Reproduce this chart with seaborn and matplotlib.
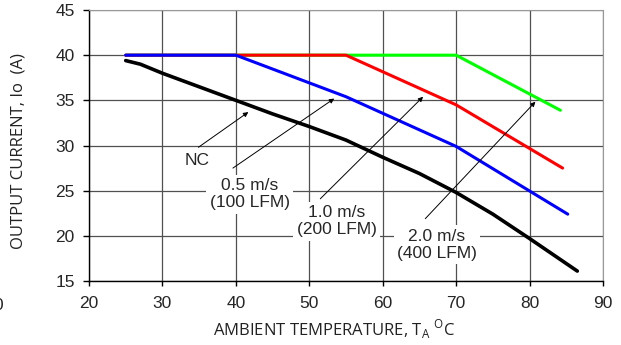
import numpy as np
import pandas as pd
import seaborn as sns
import matplotlib.pyplot as plt

# derating curves
ta_nc = [25, 27, 30, 35, 40, 45, 50, 55, 60, 65, 70, 75, 80, 86.5]
io_nc = [39.4, 39.0, 38.0, 36.5, 35.0, 33.5, 32.1, 30.6, 28.7, 26.9, 24.8, 22.4, 19.7, 16.1]
ta_05 = [25, 40, 55, 70, 85.2]
io_05 = [40, 40, 35.4, 29.9, 22.4]
ta_10 = [25, 55, 70, 84.5]
io_10 = [40, 40, 34.5, 27.5]
ta_20 = [25, 70, 84.2]
io_20 = [40, 40, 33.9]

x_ticks = [20, 30, 40, 50, 60, 70, 80, 90]
y_ticks = [15, 20, 25, 30, 35, 40, 45]

frames = []
for name, t, i in [("2.0", ta_20, io_20), ("1.0", ta_10, io_10),
                   ("0.5", ta_05, io_05), ("NC", ta_nc, io_nc)]:
    frames.append(pd.DataFrame({"ta": t, "io": i, "air": name}))
df = pd.concat(frames, ignore_index=True)

sns.set_style("white")
plt.rcParams['font.family'] = ['Liberation Sans', 'DejaVu Sans']

fig = plt.figure(figsize=(6.21, 3.45), dpi=100)
ax = fig.add_axes([0.1433, 0.1855, 0.8277, 0.7855])

palette = {"2.0": "#00ff00", "1.0": "#ff0000", "0.5": "#0000ff", "NC": "#000000"}
sns.lineplot(data=df, x="ta", y="io", hue="air", palette=palette, sort=False,
             estimator=None, linewidth=2.2, legend=False, ax=ax)
ax.lines[-1].set_linewidth(2.6)

ax.set_xlim(20, 90)
ax.set_ylim(15, 45)
ax.set_xticks(x_ticks)
ax.set_yticks(y_ticks)
ax.grid(True, color="#505050", linewidth=0.9)
ax.set_axisbelow(True)
for s in ["top", "right"]:
    ax.spines[s].set_color("#999999")
for s in ["left", "bottom"]:
    ax.spines[s].set_color("black")
    ax.spines[s].set_linewidth(1.0)
ax.tick_params(axis="both", direction="out", width=1, color="black",
               labelsize=12.5, bottom=True, left=True)
ax.tick_params(axis="x", length=3.6, pad=7)
ax.tick_params(axis="y", length=4.3, pad=6)

label_font = ["Open Sans", "DejaVu Sans"]
ax.set_xlabel(r"AMBIENT TEMPERATURE, T$_\mathregular{A}$ $^\mathregular{O}$C",
              fontsize=12, family=label_font, color="#222222")
ax.xaxis.set_label_coords(0.477, -0.135)
ax.set_ylabel("OUTPUT CURRENT, Io  (A)", fontsize=12,
              family=label_font, color="#222222")
ax.yaxis.set_label_coords(-0.122, 0.48)

# arrows: head on curve, tail near label
arrow = dict(arrowstyle="-|>", color="black", lw=0.7, mutation_scale=7,
             shrinkA=0, shrinkB=0)
box = dict(boxstyle="square,pad=0.2", facecolor="white", edgecolor="none")
arrows = [((41.7, 33.7), (34.9, 29.8)),
          ((53.4, 35.2), (39.6, 27.5)),
          ((65.5, 35.4), (51.5, 24.1)),
          ((80.8, 34.85), (65.8, 21.9))]
for head, tail in arrows:
    ax.annotate("", xy=head, xytext=tail, arrowprops=arrow)

ax.text(34.7, 28.3, "NC", fontsize=12.5, ha="center", va="center")
ax.text(41.9, 24.6, "0.5 m/s\n(100 LFM)", fontsize=12.5, ha="center",
        va="center", bbox=box, linespacing=1.15)
ax.text(53.7, 21.6, "1.0 m/s\n(200 LFM)", fontsize=12.5, ha="center",
        va="center", bbox=box, linespacing=1.15)
ax.text(67.4, 19.0, "2.0 m/s\n(400 LFM)", fontsize=12.5, ha="center",
        va="center", bbox=box, linespacing=1.15)

# clipped leftover label at the left edge
fig.text(3 / 621, 1 - 306 / 345, "0", ha="right", va="center", fontsize=12.5)

fig.savefig("out.png", dpi=100)
